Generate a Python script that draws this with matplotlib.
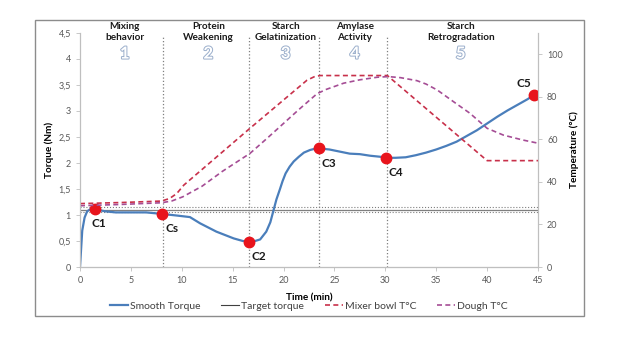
import matplotlib
matplotlib.use('Agg')
import matplotlib.pyplot as plt
import matplotlib.patheffects as pe
from matplotlib.patches import Rectangle
from matplotlib.ticker import FuncFormatter

plt.rcParams['font.family'] = ['Lato', 'DejaVu Sans']

# smooth torque (Nm) vs time (min)
t_torque = [0, 0.22, 0.45, 0.7, 1.0, 1.5, 2.5, 3.5, 5, 6.5, 8.1, 9.5, 10.8, 11.8, 13.4, 15.1,
            16.0, 16.6, 17.2, 17.7, 18.3, 18.7, 19.0, 19.3, 19.65, 19.9, 20.2, 20.6, 21.0, 21.5,
            22.0, 22.6, 23.0, 23.5, 24.5, 25.5, 26.5, 27.5, 28.5, 29.5, 30.1, 31, 32, 33, 34,
            35, 36, 37, 38, 39, 40, 41, 42, 43, 44, 44.6]
torque = [0, 0.7, 0.95, 1.07, 1.11, 1.11, 1.07, 1.05, 1.05, 1.05, 1.02, 0.99, 0.96, 0.84, 0.68,
          0.55, 0.5, 0.49, 0.5, 0.53, 0.68, 0.86, 1.08, 1.3, 1.5, 1.65, 1.8, 1.93, 2.03, 2.12,
          2.2, 2.25, 2.27, 2.28, 2.26, 2.22, 2.18, 2.17, 2.14, 2.12, 2.10, 2.10, 2.11, 2.15,
          2.2, 2.26, 2.33, 2.41, 2.52, 2.63, 2.76, 2.89, 3.01, 3.12, 3.23, 3.31]

# target torque band
target = 1.1
target_band = [1.05, 1.15]

# temperatures (°C)
t_bowl = [0, 4, 8, 8.8, 9.5, 10.2, 16.7, 22.3, 23.0, 23.6, 30.2, 40, 45]
bowl = [29.8, 30.3, 31.0, 32.2, 34.5, 38.5, 65.2, 87.8, 89.4, 90, 90, 50, 50]
t_dough = [0, 4, 8, 9, 10.1, 12, 14, 16.7, 18.5, 20, 21.5, 23.3, 24.2, 25.9, 27.5, 29.2, 30.3,
           31.5, 33.1, 34, 35.1, 36.7, 38.3, 40, 41.6, 43.5, 45]
dough = [28.8, 29.4, 30.2, 31, 33, 38, 45, 53.4, 61, 67.5, 74, 81.5, 83.5, 86.4, 88, 89.2, 89.5,
         89, 87.6, 86, 83.2, 77.7, 72.3, 65.2, 62, 59.7, 58.2]

# characteristic points
pt_names = ['C1', 'Cs', 'C2', 'C3', 'C4', 'C5']
pt_time = [1.5, 8.1, 16.6, 23.5, 30.1, 44.6]
pt_torque = [1.11, 1.02, 0.49, 2.28, 2.10, 3.31]

# phases
phase_bounds = [8.15, 16.6, 23.5, 30.2]
phase_names = ['Mixing\nbehavior', 'Protein\nWeakening', 'Starch\nGelatinization',
               'Amylase\nActivity', 'Starch\nRetrogradation']
phase_x = [4.4, 12.6, 20.2, 27.0, 37.4]

fig = plt.figure(figsize=(6.24, 3.51), dpi=100)
ax = fig.add_axes([0.1282, 0.2393, 0.734, 0.6667])
ax2 = ax.twinx()

blue = '#4a7ebb'
red = '#c8304a'
purple = '#a54d95'
gray = '#7f7f7f'

for b in phase_bounds:
    ax.plot([b, b], [0, 4.42], color=gray, ls=':', lw=0.9)

ax.axhline(target, color=gray, lw=0.9)
for v in target_band:
    ax.axhline(v, color=gray, ls=':', lw=0.8)

ax.plot(t_torque, torque, color=blue, lw=1.6, zorder=3)
ax.plot(pt_time, pt_torque, 'o', color='#e8141c', ms=7.5, zorder=4)

offsets = [(2.5, -10), (7, -10.5), (7, -10.5), (7, -10.5), (7, -10.5), (-7, 8)]
for n, x, y, off in zip(pt_names, pt_time, pt_torque, offsets):
    ax.annotate(n, (x, y), xytext=off, textcoords='offset points', ha='center', va='center',
                fontsize=8.5, fontweight='bold', color='#1a1a1a')

ax2.plot(t_bowl, bowl, color=red, ls=(0, (3, 2)), lw=1.2)
ax2.plot(t_dough, dough, color=purple, ls=(0, (3, 2)), lw=1.2)

for name, x, i in zip(phase_names, phase_x, range(1, 6)):
    ax.text(x, 1.004, name, transform=ax.get_xaxis_transform(), ha='center', va='center',
            fontsize=7.2, fontweight='bold', color='#1a1a1a', linespacing=1.35)
    ax.text(x, 0.912, str(i), transform=ax.get_xaxis_transform(), ha='center', va='center',
            fontsize=12, fontweight='bold', color='white',
            path_effects=[pe.withStroke(linewidth=1.4, foreground='#9aaecb')])

ax.set_xlim(0, 45)
ax.set_ylim(0, 4.5)
ax2.set_ylim(0, 110)
ax.set_xticks(range(0, 46, 5))
ax.set_yticks([0, 0.5, 1, 1.5, 2, 2.5, 3, 3.5, 4, 4.5])
ax2.set_yticks(range(0, 101, 20))
ax.yaxis.set_major_formatter(FuncFormatter(lambda v, p: f'{v:g}'.replace('.', ',')))

for a in (ax, ax2):
    a.spines['top'].set_visible(False)
    for s in ('left', 'right', 'bottom'):
        a.spines[s].set_color('#bfbfbf')
        a.spines[s].set_linewidth(0.8)
    a.tick_params(labelsize=6.5, colors='#595959', length=3, width=0.6, direction='out')
    a.tick_params(axis='both', color='#bfbfbf')
ax.spines['bottom'].set_color('#a0a0a0')

ax.set_xlabel('Time (min)', fontsize=7.2, fontweight='bold', labelpad=6)
ax.set_ylabel('Torque (Nm)', fontsize=7.2, fontweight='bold', labelpad=3)
ax2.set_ylabel('Temperature (°C)', fontsize=7.2, fontweight='bold', labelpad=5)

handles = [
    plt.Line2D([], [], color=blue, lw=1.6),
    plt.Line2D([], [], color='#404040', lw=0.8),
    plt.Line2D([], [], color=red, ls=(0, (3, 2)), lw=1.2),
    plt.Line2D([], [], color=purple, ls=(0, (3, 2)), lw=1.2),
]
labels = ['Smooth Torque', 'Target torque', 'Mixer bowl T°C', 'Dough T°C']
fig.legend(handles, labels, loc='center', bbox_to_anchor=(0.495, 0.128), ncol=4, frameon=False,
           fontsize=7.5, handlelength=1.7, handletextpad=0.2, columnspacing=2.0,
           labelcolor='#404040')

fig.patches.append(Rectangle((0.0561, 0.0997), 0.8798, 0.8433, transform=fig.transFigure,
                             fill=False, ec='#8c8c8c', lw=1))

fig.savefig('out.png', dpi=100)
